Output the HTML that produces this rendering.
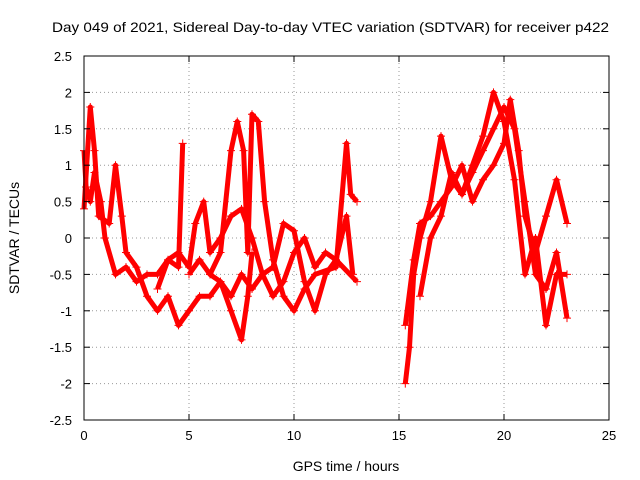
<!DOCTYPE html>
<html><head><meta charset="utf-8"><style>
body{margin:0;background:#fff}
svg{display:block;font-family:"Liberation Sans",sans-serif}
</style></head><body>
<svg id="chart" width="640" height="480">
<text x="52" y="32" textLength="557" lengthAdjust="spacingAndGlyphs" font-size="14">Day 049 of 2021, Sidereal Day-to-day VTEC variation (SDTVAR) for receiver p422</text>
<text x="346" y="471" text-anchor="middle" font-size="14">GPS time / hours</text>
<text transform="translate(19,238) rotate(-90)" text-anchor="middle" font-size="14">SDTVAR / TECUs</text>
<g id="grid"></g><g id="marks"></g><g id="axes"></g>
</svg>
<script>
const xTicks=[0,5,10,15,20,25];
const yTicks=[-2.5,-2,-1.5,-1,-0.5,0,0.5,1,1.5,2,2.5];
const yTickLabels=["-2.5","-2","-1.5","-1","-0.5","0","0.5","1","1.5","2","2.5"];
const t1=[[0,1.2],[0.1,0.7],[0.3,0.5],[0.5,0.9],[0.8,0.5],[1,0.0],[1.5,-0.5],[2,-0.4],[2.5,-0.6],[3,-0.5],[3.5,-0.5],[4,-0.3],[4.5,-0.4],[4.7,1.3]];
const t2=[[0,0.4],[0.3,1.8],[0.5,1.2],[0.7,0.3],[1.2,0.2],[1.5,1.0],[1.8,0.3],[2,-0.2],[2.5,-0.4],[3,-0.8],[3.5,-1.0],[4,-0.8],[4.5,-1.2],[5,-1.0],[5.5,-0.8],[6,-0.8],[6.5,-0.6],[7,-1.0],[7.5,-1.4],[7.8,-0.8],[8,-0.2]];
const t3=[[3.5,-0.7],[4,-0.3],[4.5,-0.2],[5,-0.4],[5.3,0.2],[5.7,0.5],[6,-0.2],[6.5,0.0],[7,0.3],[7.5,0.4],[8,0.0],[8.5,-0.5],[9,-0.8],[9.5,-0.6],[10,-0.2],[10.5,0.0],[11,-0.4],[11.5,-0.2],[12,-0.3],[12.5,0.3],[12.8,-0.5]];
const t4=[[5,-0.5],[5.5,-0.3],[6,-0.5],[6.5,-0.2],[7,1.2],[7.3,1.6],[7.6,1.2],[7.8,-0.2],[8,1.7],[8.3,1.6],[8.6,0.5],[9,-0.3],[9.5,-0.8],[10,-1.0],[10.5,-0.7],[11,-0.5],[12,-0.4],[12.5,1.3],[12.7,0.6],[13,0.5]];
const t5=[[6,-0.5],[6.5,-0.6],[7,-0.8],[7.5,-0.5],[8,-0.7],[8.5,-0.5],[9,-0.4],[9.5,0.2],[10,0.1],[10.5,-0.6],[11,-1.0],[11.5,-0.5],[12,-0.3],[13,-0.6]];
const t6=[[15.3,-2.0],[15.5,-1.5],[15.7,-0.5],[16,0.0],[16.5,0.5],[17,1.4],[17.5,0.8],[18,0.6],[18.5,0.9],[19,1.2],[19.5,1.5],[20,1.8],[20.5,1.5],[21,0.5],[21.5,-0.5],[22,-0.7],[22.5,-0.2],[23,-1.1]];
const t7=[[15.3,-1.2],[15.7,-0.3],[16,0.2],[16.5,0.3],[17,0.5],[17.5,0.7],[18,1.0],[18.5,0.5],[19,0.8],[19.5,1.0],[20,1.3],[20.3,1.9],[20.7,1.2],[21,0.3],[21.5,-0.2],[22,0.3],[22.5,0.8],[23,0.2]];
const t8=[[16,-0.8],[16.5,0.0],[17,0.3],[17.5,0.9],[18,0.6],[18.5,1.0],[19,1.4],[19.5,2.0],[20,1.6],[20.5,0.8],[21,-0.5],[21.5,0.0],[22,-1.2],[22.5,-0.5],[23,-0.5]];
const tracks=[t1,t2,t3,t4,t5,t6,t7,t8];
const X0=84,X1=609,Y0=420,Y1=56;
const xs=v=>X0+(v-0)/(25-0)*(X1-X0);
const ys=v=>Y0-(v+2.5)/5*(Y0-Y1);
const NS="http://www.w3.org/2000/svg";
function mk(tag,a,p){const e=document.createElementNS(NS,tag);for(const k in a)e.setAttribute(k,a[k]);p.appendChild(e);return e;}
const grid=document.getElementById('grid'),axes=document.getElementById('axes'),marks=document.getElementById('marks');
xTicks.forEach((v,i)=>{
 if(i>0&&i<xTicks.length-1){const g=mk('line',{x1:xs(v),x2:xs(v),y1:Y0,y2:Y1,stroke:'#999','stroke-dasharray':'1,3'},grid);
 
 }
 const t=mk('text',{x:xs(v),y:Y0+20,'text-anchor':'middle','font-size':'13'},axes);t.textContent=v;
 
 
 mk('line',{x1:xs(v),x2:xs(v),y1:Y0,y2:Y0-6,stroke:'#000'},axes);
 mk('line',{x1:xs(v),x2:xs(v),y1:Y1,y2:Y1+6,stroke:'#000'},axes);
});
yTicks.forEach((v,i)=>{
 if(i>0&&i<yTicks.length-1){const g=mk('line',{x1:X0,x2:X1,y1:ys(v),y2:ys(v),stroke:'#999','stroke-dasharray':'1,3'},grid);
 
 }
 const t=mk('text',{x:X0-12,y:ys(v)+5,'text-anchor':'end','font-size':'13'},axes);t.textContent=yTickLabels[i];
 
 
 mk('line',{x1:X0,x2:X0+6,y1:ys(v),y2:ys(v),stroke:'#000'},axes);
 mk('line',{x1:X1,x2:X1-6,y1:ys(v),y2:ys(v),stroke:'#000'},axes);
});
const b=mk('rect',{x:X0,y:Y1,width:X1-X0,height:Y0-Y1,fill:'none',stroke:'#000'},axes);


tracks.forEach(tr=>{
 const pl=mk('polyline',{points:tr.map(p=>xs(p[0])+','+ys(p[1])).join(' '),fill:'none',stroke:'#f00','stroke-width':'5','stroke-linejoin':'round'},marks);
 
 
 tr.forEach(p=>{
  const x=xs(p[0]),y=ys(p[1]);
  const m=mk('path',{d:`M${x-4},${y}H${x+4}M${x},${y-4}V${y+4}`,stroke:'#f00','stroke-width':'1'},marks);
  
  
 });
});
</script>
</body></html>
